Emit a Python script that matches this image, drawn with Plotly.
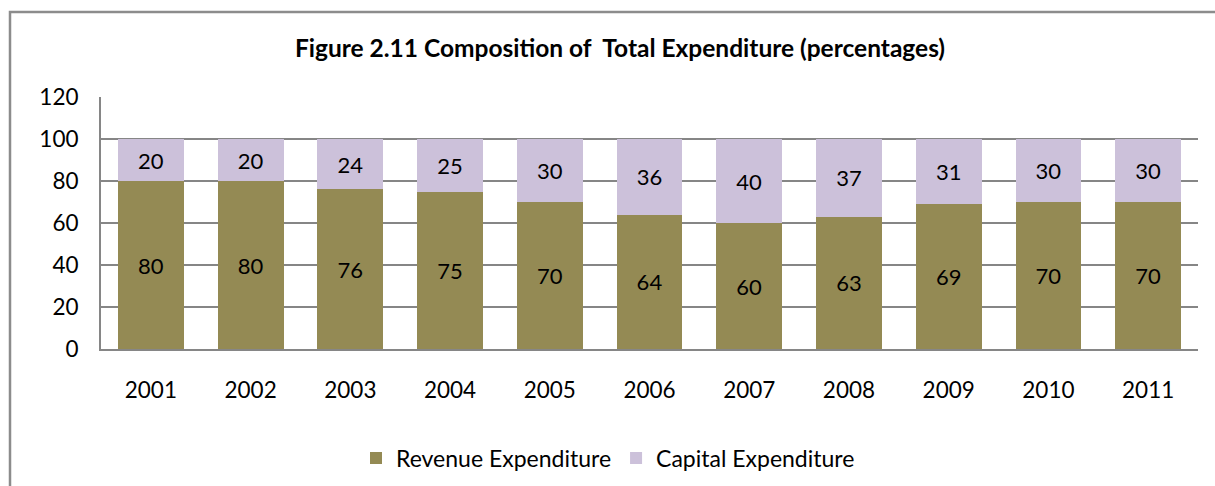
import plotly.graph_objects as go

years = ["2001", "2002", "2003", "2004", "2005", "2006", "2007", "2008", "2009", "2010", "2011"]
revenue = [80, 80, 76, 75, 70, 64, 60, 63, 69, 70, 70]
capital = [20, 20, 24, 25, 30, 36, 40, 37, 31, 30, 30]
y_ticks = [0, 20, 40, 60, 80, 100, 120]

FONT = "Lato"

fig = go.Figure()
fig.add_trace(go.Bar(
    x=years, y=revenue, name="Revenue Expenditure",
    marker=dict(color="#948A54", line=dict(width=0)),
    text=revenue, textposition="inside", insidetextanchor="middle",
    textfont=dict(family=FONT, size=22, color="#000000"),
))
fig.add_trace(go.Bar(
    x=years, y=capital, name="Capital Expenditure",
    marker=dict(color="#CCC1DA", line=dict(width=0)),
    text=capital, textposition="inside", insidetextanchor="middle",
    textfont=dict(family=FONT, size=22, color="#000000"),
))

# page body margin is removed below, so figure pixels == screen pixels
W, H = 1215, 486
L, T = 101, 97
R = W - 1198
B = H - 349
pw, ph = W - L - R, H - T - B
base = H - B  # figure y of plot bottom

fig.update_layout(
    barmode="stack",
    bargap=0.34,
    width=W, height=H,
    margin=dict(l=L, r=R, t=T, b=B, autoexpand=False),
    paper_bgcolor="white", plot_bgcolor="white",
    font=dict(family=FONT, size=22, color="#000000"),
    title=dict(
        text="<b>Figure 2.11 Composition of\u00a0 Total Expenditure (percentages)</b>",
        x=620 / W, xanchor="center", y=1 - 48 / H, yanchor="middle",
        font=dict(family=FONT, size=24.5, color="#000000"),
    ),
    legend=dict(
        orientation="h", x=(608 - L) / pw, xanchor="center",
        y=-(458 - base) / ph, yanchor="middle",
        font=dict(family=FONT, size=23, color="#000000"),
        itemsizing="constant", traceorder="normal",
    ),
    uniformtext=dict(mode=False),
    showlegend=True,
)
fig.update_xaxes(
    showline=True, linecolor="#868686", linewidth=2,
    ticks="", ticklabelstandoff=20, automargin=False,
    tickfont=dict(family=FONT, size=22.5, color="#000000"),
)
fig.update_yaxes(
    range=[0, 120], tickvals=y_ticks, showline=True, linecolor="#868686", linewidth=2,
    showgrid=True, gridcolor="#868686", gridwidth=1.5, zeroline=False,
    ticks="", ticklabelstandoff=16, automargin=False,
    tickfont=dict(family=FONT, size=22.5, color="#000000"),
)

# outer chart frame (right and bottom edges lie outside the visible page)
fig.add_shape(
    type="rect", xref="paper", yref="paper",
    x0=(10 - L) / pw, x1=(W + 60 - L) / pw,
    y0=-(H + 60 - base) / ph, y1=(base - 12) / ph,
    line=dict(color="#8C8C8C", width=2.5), fillcolor="rgba(0,0,0,0)", layer="below",
)

fig.write_html(
    "out.html",
    config={"displayModeBar": False},
    post_script=(
        "document.body.style.margin='0';"
        "document.body.style.overflow='hidden';"
        "document.documentElement.style.overflow='hidden';"
    ),
)
